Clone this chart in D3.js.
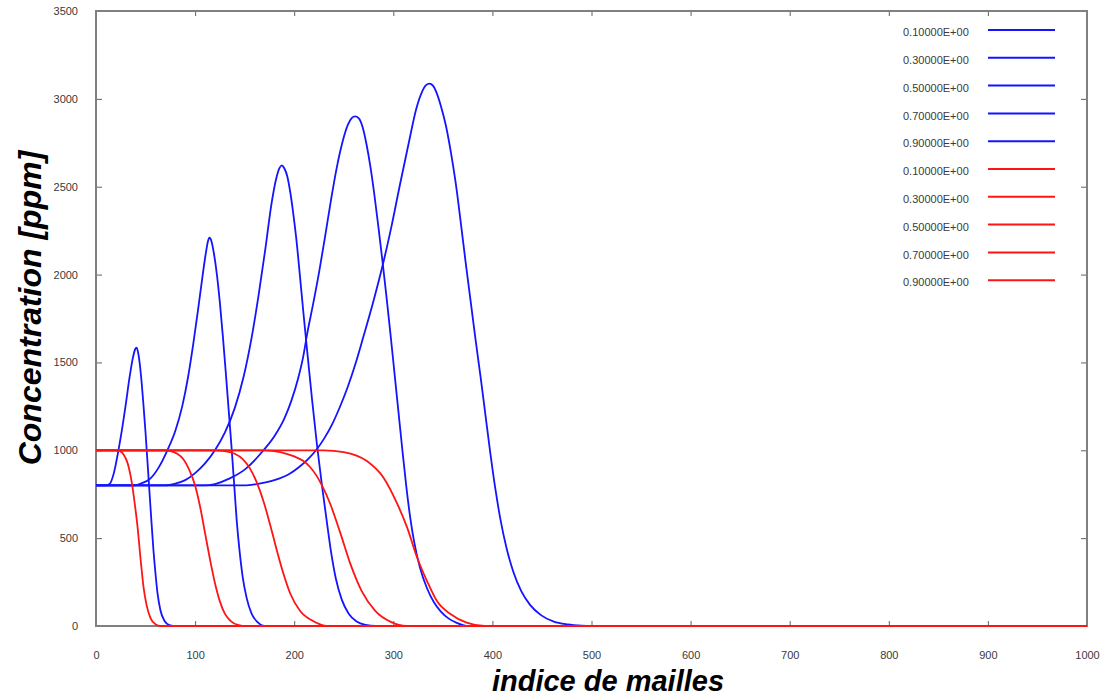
<!DOCTYPE html>
<html>
<head>
<meta charset="utf-8">
<script src="https://cdn.jsdelivr.net/npm/d3@7"></script>
<style>
    body { margin: 0; background: #fff; }
    svg { display: block; }
    text { font-family: Arial, "Liberation Sans", sans-serif; }
</style>
</head>
<body>
<svg id="chart"></svg>
<script>
// tick values
var xTicks = [0, 100, 200, 300, 400, 500, 600, 700, 800, 900, 1000];
var yTicks = [0, 500, 1000, 1500, 2000, 2500, 3000, 3500];

// legend labels (same times for both families)
var legendLabels = ["0.10000E+00", "0.30000E+00", "0.50000E+00", "0.70000E+00", "0.90000E+00"];

// blue curves: [indice, concentration]
var blue01 = [[0,800],[10,800],[14,810],[18,870],[22,980],[26,1110],[30,1260],[34,1420],[37,1520],[39.5,1575],[41,1584],
    [43,1540],[45.5,1420],[48,1250],[50,1100],[52,930],[54,760],[56,590],[58,430],[60,300],[62,190],[65,90],[69,30],[74,5],[78,0],[1000,0]];
var blue03 = [[0,800],[38,800],[45,810],[55,840],[63,900],[72,1000],[80,1110],[87,1250],[93,1420],[98,1600],[103,1800],[107,1970],[110.5,2110],[113,2190],[114.5,2210],
    [116.5,2190],[119,2120],[122,2000],[125,1840],[128,1650],[131,1440],[134,1220],[137,1000],[139.5,800],[142,600],[145,420],[148,280],[152,160],[157,70],[163,22],[170,0],[1000,0]];
var blue05 = [[0,800],[70,800],[80,810],[90,830],[100,870],[110,925],[120,1000],[130,1100],[140,1240],[149,1420],[157,1640],[164,1880],[171,2150],[177,2400],[182,2550],[185,2605],[187.5,2622],
    [190,2605],[193,2560],[196,2470],[199,2350],[202,2210],[205.5,2010],[209,1800],[213,1570],[218,1290],[223,1030],[228,800],[233,590],[237.5,410],[242,270],[248,150],[255,70],[263,25],[272,6],[282,0],[1000,0]];
var blue07 = [[0,800],[110,800],[120,808],[135,840],[150,890],[169,1000],[180,1080],[190,1180],[197,1280],[204,1410],[209,1530],[213,1660],[219,1830],[225,2010],[231,2210],[237,2420],[243,2610],[249,2760],[254,2850],[258,2890],[261.5,2900],
    [265,2890],[269,2840],[273,2740],[277,2610],[281,2450],[285,2270],[289,2080],[293,1880],[297,1670],[301,1450],[305,1230],[309,1010],[313,800],[317,620],[321,480],[327,330],[334,215],[341,135],[348,82],[356,42],[364,18],[374,0],[1000,0]];
var blue09 = [[0,800],[150,800],[162,808],[180,830],[195,865],[205,905],[214,950],[222,1000],[230,1065],[238,1145],[246,1245],[254,1360],[262,1495],[270,1650],[280,1850],[290,2070],[298,2270],[307,2520],[316,2760],[323,2940],[329,3040],[333,3078],[336.5,3087],
    [340,3075],[344,3030],[348,2960],[353,2850],[358,2700],[363,2520],[368,2300],[373,2070],[378,1850],[383,1630],[388,1420],[393,1200],[398,980],[403,780],[408,610],[414,450],[421,310],[429,200],[438,120],[449,62],[462,25],[476,9],[490,2],[500,0],[1000,0]];

// red curves: [indice, concentration]
var red01 = [[0,1000],[20,1000],[24,995],[28,975],[32,925],[36,820],[39,700],[42,560],[45,380],[48,220],[51,120],[55,45],[60,10],[65,0],[1000,0]];
var red03 = [[0,1000],[68,1000],[75,995],[82,980],[88,950],[94,890],[100,800],[105,680],[110,530],[115,380],[120,245],[125,140],[130,70],[136,28],[143,7],[152,0],[1000,0]];
var red05 = [[0,1000],[120,1000],[130,995],[140,980],[148,950],[155,900],[162,820],[169,710],[176,570],[182.5,430],[189,300],[196,185],[206,85],[219,28],[233,0],[1000,0]];
var red07 = [[0,1000],[170,1000],[186,990],[200,965],[209,940],[216,905],[222,860],[228,800],[236,700],[246.5,530],[256.6,355],[268,200],[282,85],[298,22],[313,0],[1000,0]];
var red09 = [[0,1000],[230,1000],[250,990],[273,940],[290,845],[304,695],[314,560],[324,390],[334,256],[344,142],[358,67],[374,19],[392,0],[1000,0]];

var blueSeries = [blue01, blue03, blue05, blue07, blue09];
var redSeries = [red01, red03, red05, red07, red09];

var width = 1102, height = 698;
var margin = { left: 96, right: 15, top: 11, bottom: 72 };

var svg = d3.select("#chart")
    .attr("width", width)
    .attr("height", height);

// scales
var x = d3.scaleLinear().domain([0, 1000]).range([margin.left, width - margin.right]);
var y = d3.scaleLinear().domain([0, 3500]).range([height - margin.bottom, margin.top]);

var axisColor = "#808080";
var labelColor = "#3a3a3a";
var fmt = d3.format("d");

// left axis with labels, ticks pointing inward
var gy = svg.append("g")
    .attr("transform", "translate(" + x(0) + ",0)")
    .call(d3.axisLeft(y).tickValues(yTicks).tickFormat(fmt).tickSizeInner(-6).tickSizeOuter(0).tickPadding(18));
// bottom axis
var gx = svg.append("g")
    .attr("transform", "translate(0," + y(0) + ")")
    .call(d3.axisBottom(x).tickValues(xTicks).tickFormat(fmt).tickSizeInner(-5).tickSizeOuter(0).tickPadding(25));
// top and right, ticks only
var gt = svg.append("g")
    .attr("transform", "translate(0," + y(3500) + ")")
    .call(d3.axisTop(x).tickValues(xTicks).tickSizeInner(-5).tickSizeOuter(0).tickFormat(""));
var gr = svg.append("g")
    .attr("transform", "translate(" + x(1000) + ",0)")
    .call(d3.axisRight(y).tickValues(yTicks).tickSizeInner(-6).tickSizeOuter(0).tickFormat(""));

[gy, gx, gt, gr].forEach(function(g) {
    g.select(".domain").remove();
    g.selectAll(".tick line").attr("stroke", "#606060");
    g.selectAll(".tick text")
        .attr("fill", null)
        .style("fill", labelColor)
        .style("font-size", "11px");
});

// frame
svg.append("rect")
    .attr("x", x(0))
    .attr("y", y(3500))
    .attr("width", x(1000) - x(0))
    .attr("height", y(0) - y(3500))
    .attr("fill", "none")
    .attr("stroke", axisColor)
    .attr("stroke-width", 2);

// lines
var lineFn = d3.line()
    .x(d => x(d[0]))
    .y(d => y(d[1]))
    .curve(d3.curveMonotoneX);

var blueColor = "#1414ff", redColor = "#ff1414";

svg.append("g").attr("class", "blue-lines")
    .selectAll("path")
    .data(blueSeries).enter()
    .append("path")
    .attr("d", d => lineFn(d))
    .attr("fill", "none")
    .attr("stroke", blueColor)
    .attr("stroke-width", 1.8);

svg.append("g").attr("class", "red-lines")
    .selectAll("path")
    .data(redSeries).enter()
    .append("path")
    .attr("d", d => lineFn(d))
    .attr("fill", "none")
    .attr("stroke", redColor)
    .attr("stroke-width", 1.8);

// legend
var legendItems = legendLabels.map(l => ({ label: l, color: blueColor }))
    .concat(legendLabels.map(l => ({ label: l, color: redColor })));

var legend = svg.append("g").attr("class", "legend");
var rows = legend.selectAll("g")
    .data(legendItems).enter()
    .append("g")
    .attr("transform", (d, i) => "translate(0," + (30 + i * 27.8) + ")");
rows.append("text")
    .attr("x", 903)
    .attr("y", 2.3)
    .attr("dy", "0.35em")
    .style("fill", labelColor)
    .style("font-size", "11px")
    .text(d => d.label);
rows.append("line")
    .attr("x1", 988)
    .attr("x2", 1055)
    .attr("y1", 0)
    .attr("y2", 0)
    .attr("stroke", d => d.color)
    .attr("stroke-width", 2);

// axis titles
svg.append("text")
    .attr("transform", "translate(41,308) rotate(-90)")
    .attr("text-anchor", "middle")
    .style("font-size", "32px")
    .style("font-weight", "bold")
    .style("font-style", "italic")
    .text("Concentration [ppm]");

svg.append("text")
    .attr("x", 608)
    .attr("y", 691)
    .attr("text-anchor", "middle")
    .style("font-size", "29px")
    .style("font-weight", "bold")
    .style("font-style", "italic")
    .text("indice de mailles");
</script>
</body>
</html>
